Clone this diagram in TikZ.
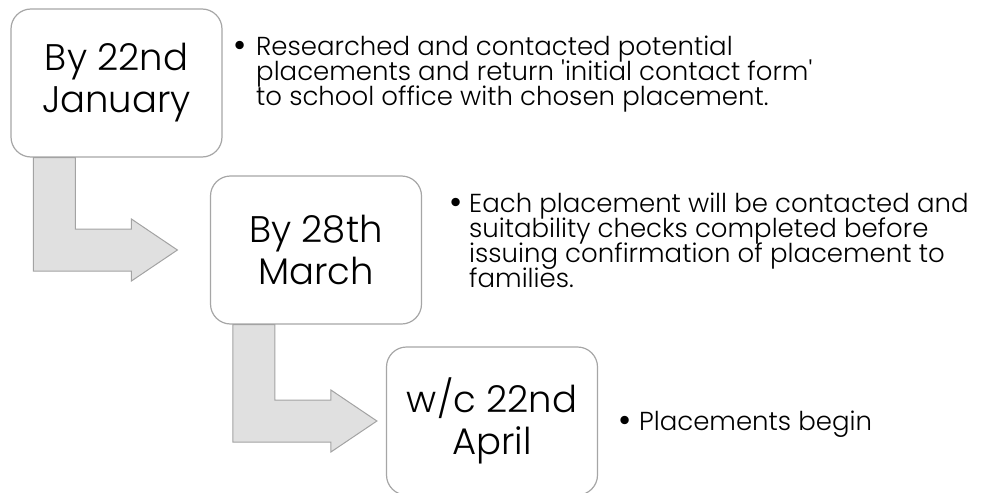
\documentclass[tikz,border=0pt]{standalone}
\usepackage{fontspec}
\setmainfont{Poppins Light}
\usepackage{xcolor}
\usetikzlibrary{calc}
\definecolor{boxgray}{HTML}{A6A6A6}
\definecolor{arrowfill}{HTML}{E0E0E0}
\definecolor{arrowline}{HTML}{A3A3A3}
\newcommand\datefont{\fontsize{37}{42}\selectfont}
\newcommand\notefont{\fontsize{26}{25}\selectfont}
\newcommand\notelines[1]{\parbox[t]{600pt}{\notefont\lineskiplimit=-50pt\raggedright #1}}
\tikzset{
  datebox/.style={draw=boxgray, line width=1.2pt, fill=white, rounded corners=20pt,
    minimum width=211pt, minimum height=148pt, inner sep=0pt, align=center, font=\datefont},
  note/.style={anchor=base west, inner sep=0pt, font=\notefont},
  dot/.style={anchor=base, inner sep=0pt, font=\fontsize{36}{25}\selectfont},
  bent/.style={fill=arrowfill, draw=arrowline, line width=1pt, line join=miter}}

\begin{document}
\begin{tikzpicture}[x=1pt, y=-1pt]
\useasboundingbox (0,0) rectangle (981,492);
% date boxes
\node[datebox] (jan) at (116.5,83) {By 22nd\\January};
\node[datebox] (mar) at (316,250) {By 28th\\March};
\node[datebox] (apr) at (492,421) {w/c 22nd\\April};
% bent arrows between the boxes
\foreach \a/\b in {jan/mar, mar/apr} {
  \coordinate (s) at ($(\a.south west)+(23,0)$);
  \coordinate (t) at (s |- \b.west);
  \draw[bent] (s) -- ++(42,0) -- ($(t)+(42,-21)$) -- ($(t)+(98,-21)$)
    -- ($(t)+(98,-31)$) -- ($(t)+(144,0)$) -- ($(t)+(98,31)$)
    -- ($(t)+(98,21)$) -- ($(t)+(0,21)$) -- cycle;
}
% notes
\node[dot] (d1) at (240,58) {\textbullet};
\node[note] (n1) at (256,56) {\notelines{%
  Researched and contacted potential\\
  placements and return \textquotesingle initial contact form\textquotesingle\\
  to school office with chosen placement.}};
\node[dot] (d2) at (456,214) {\textbullet};
\node[note] (n2) at (469,212) {\notelines{%
  Each placement will be contacted and\\
  suitability checks completed before\\
  issuing confirmation of placement to\\
  families.}};
\node[dot] (d3) at (625,432) {\textbullet};
\node[note] (n3) at (639,430) {Placements begin};
\end{tikzpicture}
\end{document}
